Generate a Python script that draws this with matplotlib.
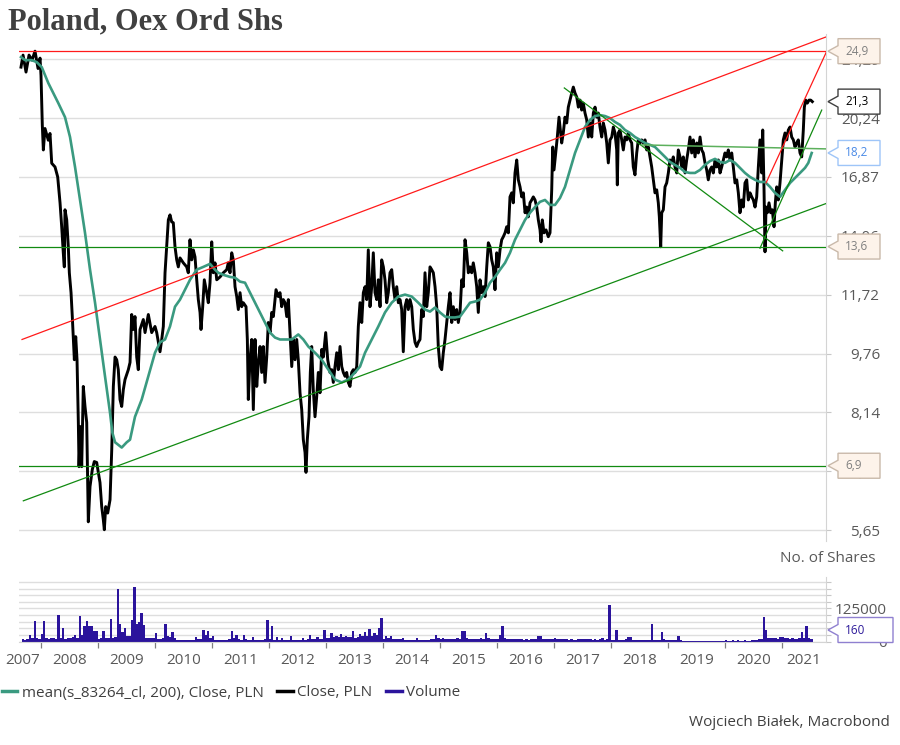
import numpy as np
import matplotlib
matplotlib.use("Agg")
import matplotlib.pyplot as plt
from matplotlib.patches import Polygon
from matplotlib.transforms import IdentityTransform
from matplotlib.lines import Line2D
import matplotlib.ticker as mticker

plt.rcParams['font.family'] = ['Open Sans', 'DejaVu Sans']

# ---------------- data ----------------
title = "Poland, Oex Ord Shs"

# Close, PLN  (decimal year, value)
close = [
(2007.654,23.70),(2007.690,24.60),(2007.742,23.34),(2007.795,24.60),(2007.847,24.22),(2007.900,24.90),
(2007.953,23.60),(2007.988,24.37),(2008.005,23.10),(2008.028,19.80),(2008.046,18.34),(2008.075,19.60),
(2008.133,18.90),(2008.163,19.30),(2008.193,17.60),(2008.251,17.40),(2008.298,16.87),(2008.339,15.57),
(2008.368,14.46),(2008.396,13.34),(2008.414,12.77),(2008.426,15.24),(2008.456,14.77),(2008.484,13.59),
(2008.502,12.54),(2008.532,11.79),(2008.554,10.95),(2008.590,9.58),(2008.614,10.29),(2008.637,9.58),
(2008.660,7.89),(2008.672,6.88),(2008.695,7.79),(2008.719,6.88),(2008.747,8.82),(2008.777,8.29),
(2008.807,7.89),(2008.835,5.80),(2008.865,6.47),(2008.905,6.82),(2008.940,6.99),(2008.982,6.97),
(2009.011,6.76),(2009.040,6.55),(2009.070,6.08),(2009.098,5.84),(2009.116,5.66),(2009.140,6.08),
(2009.175,5.96),(2009.216,6.21),(2009.246,7.25),(2009.274,8.82),(2009.304,9.66),(2009.333,9.58),
(2009.361,9.29),(2009.391,8.47),(2009.421,8.29),(2009.449,8.73),(2009.479,9.01),(2009.537,9.29),
(2009.567,9.50),(2009.596,11.02),(2009.624,10.52),(2009.654,10.95),(2009.684,9.66),(2009.712,9.29),
(2009.742,10.52),(2009.800,10.85),(2009.830,10.42),(2009.888,11.02),(2009.947,10.42),(2010.005,10.62),
(2010.035,10.42),(2010.093,9.82),(2010.123,10.20),(2010.151,10.62),(2010.181,12.54),(2010.210,13.59),
(2010.239,14.77),(2010.268,15.00),(2010.298,14.68),(2010.326,14.64),(2010.356,13.59),(2010.386,13.05),
(2010.414,12.77),(2010.444,13.13),(2010.502,12.93),(2010.561,12.77),(2010.589,12.54),(2010.619,13.89),
(2010.649,13.05),(2010.677,13.46),(2010.707,13.17),(2010.737,12.27),(2010.765,11.54),(2010.795,11.09),
(2010.812,10.52),(2010.842,11.29),(2010.870,12.27),(2010.912,11.79),(2010.940,11.43),(2010.970,12.16),
(2011.000,13.80),(2011.028,12.54),(2011.058,12.93),(2011.088,12.27),(2011.146,12.38),(2011.204,12.54),
(2011.263,12.66),(2011.291,12.93),(2011.321,12.54),(2011.351,13.34),(2011.379,13.05),(2011.409,12.01),
(2011.439,11.65),(2011.467,11.19),(2011.497,11.79),(2011.526,11.29),(2011.554,11.43),(2011.602,11.29),
(2011.625,10.20),(2011.642,8.47),(2011.672,9.58),(2011.702,10.20),(2011.730,8.21),(2011.760,10.20),
(2011.790,8.82),(2011.818,9.50),(2011.848,9.98),(2011.877,9.21),(2011.905,9.98),(2011.935,8.93),
(2011.965,9.66),(2011.993,10.75),(2012.023,10.42),(2012.053,11.09),(2012.081,10.95),(2012.128,11.90),
(2012.168,11.65),(2012.198,11.79),(2012.228,11.29),(2012.256,11.54),(2012.286,11.43),(2012.316,10.95),
(2012.344,11.54),(2012.374,10.42),(2012.404,9.38),(2012.432,10.20),(2012.462,9.58),(2012.491,10.20),
(2012.519,9.58),(2012.549,8.65),(2012.579,8.21),(2012.607,7.48),(2012.637,7.19),(2012.654,6.76),
(2012.677,7.48),(2012.707,8.03),(2012.730,9.21),(2012.754,9.98),(2012.782,8.73),(2012.812,8.03),
(2012.842,8.55),(2012.870,9.21),(2012.900,8.65),(2012.930,9.89),(2012.958,9.66),(2013.000,10.42),
(2013.035,9.58),(2013.075,9.21),(2013.105,9.29),(2013.133,8.93),(2013.163,9.38),(2013.193,9.79),
(2013.221,9.29),(2013.251,9.98),(2013.281,9.38),(2013.309,9.21),(2013.339,9.10),(2013.368,9.21),
(2013.396,8.93),(2013.426,8.82),(2013.456,9.21),(2013.484,9.29),(2013.514,9.21),(2013.544,9.38),
(2013.572,10.62),(2013.602,11.43),(2013.632,10.75),(2013.660,11.79),(2013.690,12.01),(2013.719,11.54),
(2013.747,13.46),(2013.777,11.29),(2013.807,12.01),(2013.835,13.34),(2013.865,11.79),(2013.895,11.54),
(2013.923,12.27),(2013.953,11.29),(2013.982,13.05),(2014.011,12.77),(2014.040,12.27),(2014.070,11.43),
(2014.098,11.79),(2014.128,12.54),(2014.158,12.66),(2014.186,12.01),(2014.216,11.54),(2014.246,12.01),
(2014.274,11.43),(2014.304,11.54),(2014.333,11.19),(2014.361,9.82),(2014.391,11.29),(2014.421,11.54),
(2014.449,11.19),(2014.479,11.54),(2014.509,11.29),(2014.537,10.52),(2014.567,10.11),(2014.596,9.98),
(2014.624,10.11),(2014.654,10.20),(2014.684,11.19),(2014.712,10.95),(2014.742,12.54),(2014.772,11.29),
(2014.800,11.79),(2014.830,12.77),(2014.860,12.66),(2014.888,12.54),(2014.918,12.01),(2014.947,11.29),
(2014.975,9.98),(2015.005,9.38),(2015.035,9.29),(2015.063,9.79),(2015.093,10.20),(2015.123,10.75),
(2015.151,11.29),(2015.181,11.79),(2015.211,10.75),(2015.239,11.29),(2015.269,10.85),(2015.298,11.19),
(2015.326,10.75),(2015.356,11.09),(2015.386,12.27),(2015.414,12.01),(2015.444,13.89),(2015.474,13.34),
(2015.502,12.54),(2015.532,12.77),(2015.561,12.54),(2015.589,12.93),(2015.619,12.54),(2015.649,12.01),
(2015.677,11.09),(2015.707,12.27),(2015.737,11.79),(2015.765,12.01),(2015.795,11.65),(2015.825,12.77),
(2015.853,13.76),(2015.883,13.59),(2015.912,13.05),(2015.940,12.77),(2015.970,11.90),(2016.000,13.34),
(2016.028,12.77),(2016.058,13.46),(2016.088,13.89),(2016.116,14.02),(2016.146,14.19),(2016.175,14.46),
(2016.204,14.19),(2016.233,15.86),(2016.263,16.06),(2016.291,15.57),(2016.321,17.08),(2016.351,17.78),
(2016.379,16.72),(2016.409,16.36),(2016.439,15.86),(2016.467,16.06),(2016.497,15.10),(2016.526,15.37),
(2016.554,14.91),(2016.584,15.57),(2016.614,15.71),(2016.642,15.86),(2016.672,15.71),(2016.702,15.37),
(2016.730,14.77),(2016.760,14.32),(2016.777,13.80),(2016.800,14.77),(2016.830,14.19),(2016.865,14.32),
(2016.905,14.02),(2016.935,14.19),(2016.965,16.21),(2016.982,18.51),(2017.005,17.24),(2017.035,18.17),
(2017.063,19.09),(2017.093,20.30),(2017.140,18.74),(2017.168,19.33),(2017.198,20.30),(2017.228,19.94),
(2017.256,20.94),(2017.286,21.40),(2017.316,21.87),(2017.344,22.28),(2017.374,21.87),(2017.404,21.60),
(2017.432,20.94),(2017.462,21.40),(2017.491,20.75),(2017.519,21.20),(2017.549,20.56),(2017.579,20.13),
(2017.607,19.09),(2017.637,19.94),(2017.667,19.09),(2017.695,20.56),(2017.725,20.94),(2017.755,20.30),
(2017.782,20.56),(2017.812,19.69),(2017.842,19.09),(2017.870,19.94),(2017.900,19.51),(2017.930,18.74),
(2017.958,17.62),(2017.988,18.92),(2018.018,19.09),(2018.046,19.69),(2018.075,19.33),(2018.105,18.34),
(2018.116,16.46),(2018.133,19.33),(2018.163,19.51),(2018.193,18.92),(2018.221,18.34),(2018.251,19.09),
(2018.281,18.92),(2018.309,19.33),(2018.339,18.92),(2018.368,18.74),(2018.396,17.40),(2018.426,16.98),
(2018.456,18.17),(2018.484,18.92),(2018.514,18.74),(2018.544,18.92),(2018.572,18.74),(2018.602,18.92),
(2018.632,18.34),(2018.660,18.51),(2018.690,17.95),(2018.719,17.40),(2018.747,16.72),(2018.777,16.06),
(2018.807,16.21),(2018.835,15.57),(2018.853,14.91),(2018.877,13.59),(2018.895,15.10),(2018.923,15.24),
(2018.953,16.36),(2018.982,16.56),(2019.011,17.08),(2019.040,17.78),(2019.070,17.62),(2019.098,17.95),
(2019.128,17.40),(2019.158,17.08),(2019.186,18.34),(2019.216,17.95),(2019.246,17.40),(2019.274,17.95),
(2019.304,17.08),(2019.333,17.78),(2019.361,18.34),(2019.391,19.09),(2019.421,18.17),(2019.449,18.92),
(2019.479,17.95),(2019.509,18.74),(2019.537,18.17),(2019.567,19.09),(2019.596,18.34),(2019.624,18.17),
(2019.654,17.62),(2019.684,17.24),(2019.712,16.72),(2019.742,17.24),(2019.772,17.40),(2019.800,17.08),
(2019.830,17.78),(2019.860,17.40),(2019.888,17.78),(2019.918,17.08),(2019.947,17.40),(2019.975,17.78),
(2020.005,18.17),(2020.035,17.95),(2020.063,18.34),(2020.093,17.78),(2020.123,18.17),(2020.151,17.40),
(2020.181,16.56),(2020.211,16.72),(2020.239,16.06),(2020.268,15.10),(2020.298,15.71),(2020.326,15.37),
(2020.356,16.56),(2020.386,16.72),(2020.414,15.71),(2020.444,16.06),(2020.474,15.86),(2020.502,15.71),
(2020.532,15.37),(2020.561,15.86),(2020.590,17.40),(2020.619,18.92),(2020.649,17.08),(2020.667,19.51),
(2020.677,17.95),(2020.690,16.21),(2020.707,13.38),(2020.725,15.37),(2020.747,15.10),(2020.777,15.57),
(2020.807,15.10),(2020.835,15.24),(2020.865,14.46),(2020.888,15.57),(2020.912,16.36),(2020.940,15.71),
(2020.970,16.56),(2021.000,17.78),(2021.028,18.92),(2021.058,19.33),(2021.088,18.92),(2021.116,19.51),
(2021.146,19.69),(2021.175,19.09),(2021.204,18.92),(2021.233,18.51),(2021.263,18.74),(2021.291,18.92),
(2021.321,18.17),(2021.351,17.95),(2021.379,19.51),(2021.397,20.94),(2021.421,21.40),(2021.449,21.20),
(2021.479,21.40),(2021.509,21.40),(2021.537,21.30),
]

# mean(s_83264_cl, 200), Close, PLN
ma200 = [
(2007.654,24.45),(2007.725,24.22),(2007.842,24.22),(2007.930,24.07),(2008.018,23.70),(2008.133,22.56),
(2008.309,21.20),(2008.426,20.30),(2008.514,19.09),(2008.602,17.40),(2008.689,15.71),(2008.777,14.19),
(2008.865,12.66),(2008.953,11.43),(2009.040,10.20),(2009.128,9.10),(2009.216,8.13),(2009.256,7.65),
(2009.304,7.42),(2009.421,7.30),(2009.509,7.42),(2009.567,7.48),(2009.654,8.03),(2009.772,8.47),
(2009.888,9.10),(2010.005,9.79),(2010.093,10.11),(2010.181,10.20),(2010.268,10.62),(2010.356,11.29),
(2010.444,11.54),(2010.532,11.90),(2010.619,12.27),(2010.737,12.66),(2010.853,12.77),(2010.970,12.89),
(2011.058,12.66),(2011.116,12.54),(2011.204,12.46),(2011.321,12.38),(2011.409,12.35),(2011.497,12.20),
(2011.584,12.16),(2011.672,11.79),(2011.760,11.43),(2011.848,11.09),(2011.935,10.75),(2012.023,10.42),
(2012.111,10.26),(2012.198,10.20),(2012.286,10.20),(2012.404,10.20),(2012.519,10.36),(2012.607,10.20),
(2012.695,9.98),(2012.812,9.79),(2012.930,9.58),(2013.046,9.29),(2013.163,9.01),(2013.281,8.93),
(2013.396,9.01),(2013.514,9.21),(2013.602,9.38),(2013.690,9.79),(2013.807,10.20),(2013.923,10.62),
(2014.040,11.09),(2014.158,11.43),(2014.274,11.65),(2014.391,11.72),(2014.509,11.65),(2014.624,11.43),
(2014.742,11.19),(2014.830,11.12),(2014.918,11.26),(2015.005,11.09),(2015.093,10.95),(2015.181,10.92),
(2015.269,10.92),(2015.356,10.95),(2015.444,11.19),(2015.532,11.43),(2015.619,11.47),(2015.707,11.54),
(2015.795,11.79),(2015.883,12.16),(2015.970,12.38),(2016.058,12.66),(2016.146,12.93),(2016.233,13.34),
(2016.321,13.89),(2016.409,14.32),(2016.497,14.77),(2016.584,15.10),(2016.672,15.37),(2016.760,15.62),
(2016.847,15.71),(2016.935,15.47),(2017.023,15.47),(2017.111,15.81),(2017.198,16.36),(2017.286,17.24),
(2017.374,18.17),(2017.462,18.92),(2017.549,19.69),(2017.637,20.13),(2017.725,20.37),(2017.812,20.43),
(2017.900,20.37),(2017.988,20.24),(2018.075,20.00),(2018.163,19.82),(2018.251,19.51),(2018.339,19.33),
(2018.426,19.09),(2018.514,18.92),(2018.602,18.74),(2018.690,18.63),(2018.777,18.51),(2018.865,18.23),
(2018.953,17.95),(2019.040,17.67),(2019.128,17.51),(2019.216,17.35),(2019.304,17.13),(2019.391,17.08),
(2019.479,17.08),(2019.567,17.24),(2019.654,17.51),(2019.742,17.72),(2019.830,17.84),(2019.918,17.67),
(2020.005,17.62),(2020.093,17.78),(2020.181,17.62),(2020.268,17.35),(2020.356,17.08),(2020.444,16.87),
(2020.532,16.72),(2020.619,16.61),(2020.707,16.61),(2020.795,16.36),(2020.882,16.06),(2020.970,15.86),
(2021.058,16.21),(2021.146,16.56),(2021.233,16.82),(2021.321,17.08),(2021.409,17.35),(2021.467,17.62),
(2021.526,18.17),
]

# Volume, thousands of shares, half-monthly, starting Sep 2007
vol_start = 2007 + 8 / 12
volume_k = {
    2007: [8, 6, 10, 23, 12, 77, 15, 10],
    2008: [29, 76, 12, 10, 15, 12, 10, 101, 12, 50, 10, 12, 15, 18, 23, 15, 97, 25, 58, 76, 60, 57, 39, 38],
    2009: [10, 12, 38, 12, 15, 86, 14, 18, 198, 67, 35, 52, 20, 22, 82, 206, 67, 73, 107, 64, 15, 12, 14, 12],
    2010: [33, 10, 8, 12, 67, 20, 18, 35, 12, 6, 5, 5, 5, 4, 5, 5, 6, 16, 8, 10, 42, 23, 38, 12],
    2011: [19, 5, 4, 4, 5, 6, 4, 8, 38, 12, 25, 8, 6, 25, 10, 6, 5, 16, 5, 4, 6, 5, 8, 83],
    2012: [8, 60, 6, 16, 5, 12, 5, 6, 5, 19, 6, 5, 5, 6, 12, 6, 8, 25, 10, 8, 16, 10, 8, 42],
    2013: [12, 15, 33, 18, 20, 16, 29, 18, 20, 16, 18, 38, 15, 18, 27, 20, 35, 22, 48, 20, 32, 23, 52, 90],
    2014: [10, 20, 12, 19, 10, 8, 8, 8, 14, 6, 6, 6, 5, 6, 12, 6, 5, 6, 6, 6, 8, 10, 23, 12],
    2015: [10, 12, 10, 8, 10, 10, 10, 12, 10, 39, 39, 12, 10, 10, 10, 10, 10, 12, 10, 32, 12, 10, 10, 10],
    2016: [10, 25, 57, 12, 10, 10, 8, 10, 8, 10, 8, 6, 8, 6, 8, 8, 10, 20, 20, 10, 8, 10, 8, 10],
    2017: [12, 8, 10, 8, 8, 8, 6, 8, 6, 6, 10, 8, 8, 8, 10, 8, 6, 10, 6, 8, 12, 6, 8, 140],
    2018: [6, 6, 42, 6, 6, 6, 8, 16, 16, 6, 6, 6, 5, 5, 6, 6, 6, 68, 6, 5, 6, 35, 8, 6],
    2019: [4, 4, 4, 5, 19, 4, 3, 3, 3, 3, 2, 3, 3, 3, 2, 3, 3, 2, 3, 3, 2, 3, 3, 3],
    2020: [4, 3, 3, 4, 3, 4, 3, 3, 4, 3, 3, 4, 4, 5, 8, 10, 92, 42, 12, 14, 12, 12, 10, 16],
    2021: [16, 12, 12, 10, 12, 10, 10, 12, 35, 12, 57, 12, 10],
}

# Analyst trend lines (decimal year, price)
red_lines = [((2007.672, 10.20), (2021.777, 26.02)),
             ((2020.725, 16.56), (2021.790, 24.90))]
green_lines = [((2007.695, 6.19), (2021.790, 15.55)),
               ((2017.186, 22.22), (2021.017, 13.42)),
               ((2020.619, 13.53), (2021.702, 20.75))]
lightgreen_lines = [((2018.549, 18.63), (2021.790, 18.40))]
red_levels = [24.9]
green_levels = [13.6, 6.9]

price_ticks = [5.65, 6.78, 8.14, 9.76, 11.72, 14.06, 16.87, 20.24, 24.29]
price_tick_labels = ["5,65", "6,78", "8,14", "9,76", "11,72", "14,06", "16,87", "20,24", "24,29"]
vol_ticks = [0, 25000, 50000, 75000, 100000, 125000, 150000, 175000, 200000, 225000]
vol_tick_labels = ["0", "", "", "", "", "125000", "", "", "", ""]
years = list(range(2007, 2022))
last_volume = 160

legend_labels = ["mean(s_83264_cl, 200), Close, PLN", "Close, PLN", "Volume"]

# ---------------- style ----------------
C_CLOSE = "#000000"
C_MA = "#3a9a80"
C_VOL = "#2b149c"
C_RED = "#ff1a1a"
C_GREEN = "#118a11"
C_LGREEN = "#5cb05c"
C_GRID = "#dedede"
C_TXT = "#595959"

W, H = 900, 745
fig = plt.figure(figsize=(W / 100, H / 100), dpi=100)

def fx(px):
    return px / W

def fy(py):
    return 1 - py / H

L, R = 19, 826
ax = fig.add_axes([fx(L), fy(541), (R - L) / W, (541 - 34) / H])
axv = fig.add_axes([fx(L), fy(641.5), (R - L) / W, (641.5 - 576.8) / H])

xlim = (2007.619, 2021.777)

# main panel
ct, cv = np.array(close).T
mt, mv = np.array(ma200).T
ax.set_yscale("log")
ax.set_xlim(xlim)
ax.set_ylim(5.466, 26.26)

for (x0, y0), (x1, y1) in green_lines:
    ax.plot([x0, x1], [y0, y1], color=C_GREEN, lw=0.9, zorder=4)
for (x0, y0), (x1, y1) in lightgreen_lines:
    ax.plot([x0, x1], [y0, y1], color=C_LGREEN, lw=1.1, zorder=4)
for (x0, y0), (x1, y1) in red_lines:
    ax.plot([x0, x1], [y0, y1], color=C_RED, lw=0.9, zorder=4)
for lv in red_levels:
    ax.axhline(lv, color=C_RED, lw=0.9, zorder=4)
for lv in green_levels:
    ax.axhline(lv, color=C_GREEN, lw=0.9, zorder=4)

ax.plot(ct, cv, color=C_CLOSE, lw=2.1, zorder=2, solid_joinstyle="round")
ax.plot(mt, mv, color=C_MA, lw=1.9, zorder=3)

ax.yaxis.set_major_locator(mticker.FixedLocator(price_ticks))
ax.yaxis.set_major_formatter(mticker.FixedFormatter(price_tick_labels))
ax.yaxis.set_minor_locator(mticker.NullLocator())
ax.yaxis.tick_right()
ax.tick_params(axis="y", which="major", length=3.6, width=0.8, color="#c8c8c8",
               pad=35.3, labelsize=11, labelcolor=C_TXT)
for lab in ax.get_yticklabels():
    lab.set_horizontalalignment("right")
ax.tick_params(axis="x", which="both", bottom=False, labelbottom=False)
ax.grid(axis="y", color=C_GRID, lw=1, zorder=0)
for s in ("top", "left", "bottom"):
    ax.spines[s].set_visible(False)
ax.spines["right"].set_color("#d4d4d4")

# volume panel
vol = np.concatenate([volume_k[y] for y in years]) * 1000.0
edges = vol_start + np.arange(len(vol) + 1) / 24.0
axv.stairs(vol, edges, fill=True, color=C_VOL, lw=0, zorder=2)
axv.set_xlim(xlim)
axv.set_ylim(0, 245000)
axv.yaxis.set_major_locator(mticker.FixedLocator(vol_ticks))
axv.yaxis.set_major_formatter(mticker.FixedFormatter(vol_tick_labels))
axv.yaxis.tick_right()
axv.tick_params(axis="y", length=3.6, width=0.8, color="#c8c8c8", pad=40.3,
                labelsize=11, labelcolor=C_TXT)
for lab in axv.get_yticklabels():
    lab.set_horizontalalignment("right")
axv.grid(axis="y", color=C_GRID, lw=1, zorder=0)
for s in ("top", "left"):
    axv.spines[s].set_visible(False)
axv.spines["right"].set_color("#d4d4d4")
axv.spines["bottom"].set_color("#d4d4d4")

# x axis: ticks at year boundaries, labels centred on visible part of each year
label_lo = 2007.374
centers = [(max(y, label_lo) + min(y + 1, xlim[1])) / 2 for y in years]
axv.xaxis.set_major_locator(mticker.FixedLocator([y for y in years if y > xlim[0]]))
axv.xaxis.set_major_formatter(mticker.NullFormatter())
axv.xaxis.set_minor_locator(mticker.FixedLocator(centers))
axv.xaxis.set_minor_formatter(mticker.FixedFormatter([str(y) for y in years]))
axv.tick_params(axis="x", which="major", length=4, width=0.9, color="#808080")
axv.tick_params(axis="x", which="minor", length=0, pad=8.5, labelsize=11, labelcolor=C_TXT)

# ---------------- texts ----------------
fig.text(fx(8), fy(22), title, fontsize=22, fontweight="bold", family=["Liberation Serif", "DejaVu Serif"],
         color="#404040", va="center", ha="left")
fig.text(fx(876), fy(558), "No. of Shares", fontsize=11, color=C_TXT, ha="right", va="center")
fig.text(fx(890), fy(723), "Wojciech Białek, Macrobond", fontsize=11, color="#404040",
         ha="right", va="center")

handles = [Line2D([], [], color=C_MA, lw=2.5),
           Line2D([], [], color=C_CLOSE, lw=2.5),
           Line2D([], [], color=C_VOL, lw=2.5)]
leg = fig.legend(handles, legend_labels, loc="center left", bbox_to_anchor=(fx(2), fy(693)),
                 ncol=3, frameon=False, handlelength=1.0, handletextpad=0.3, columnspacing=0.9,
                 fontsize=11, borderpad=0, borderaxespad=0)
for t in leg.get_texts():
    t.set_color("#404040")

# ---------------- value callouts ----------------
fig.canvas.draw()

def callout(yc, text, face, edge, tcol, right=880):
    tip, left, hh, nh = 828, 838, 12.5, 5.5
    pts = [(tip, yc), (left, yc + nh), (left, yc + hh), (right, yc + hh),
           (right, yc - hh), (left, yc - hh), (left, yc - nh)]
    fig.add_artist(Polygon(pts, closed=True, transform=IdentityTransform(), fc=face, ec=edge,
                           lw=1, zorder=20))
    fig.text(845 / W, yc / H, text, fontsize=8.5, color=tcol, ha="left", va="center", zorder=21)

def ypix(a, v):
    return a.transData.transform((xlim[0], v))[1]

BEIGE, BEIGE_EDGE = "#fdf3ea", "#c9b9aa"
callout(ypix(ax, red_levels[0]), "24,9", BEIGE, BEIGE_EDGE, "#808080")
callout(ypix(ax, cv[-1]), "21,3", "white", "#404040", "#000000")
callout(ypix(ax, mv[-1]), "18,2", "white", "#9ec5f8", "#4a8ae6")
callout(ypix(ax, green_levels[0]), "13,6", BEIGE, BEIGE_EDGE, "#808080")
callout(ypix(ax, green_levels[1]), "6,9", BEIGE, BEIGE_EDGE, "#808080")
vy = max(ypix(axv, last_volume), ypix(axv, 0) + 11.5)
callout(vy, str(last_volume), "white", "#8f80d0", "#2d1a9a", right=893)

fig.savefig("out.png", dpi=100)
